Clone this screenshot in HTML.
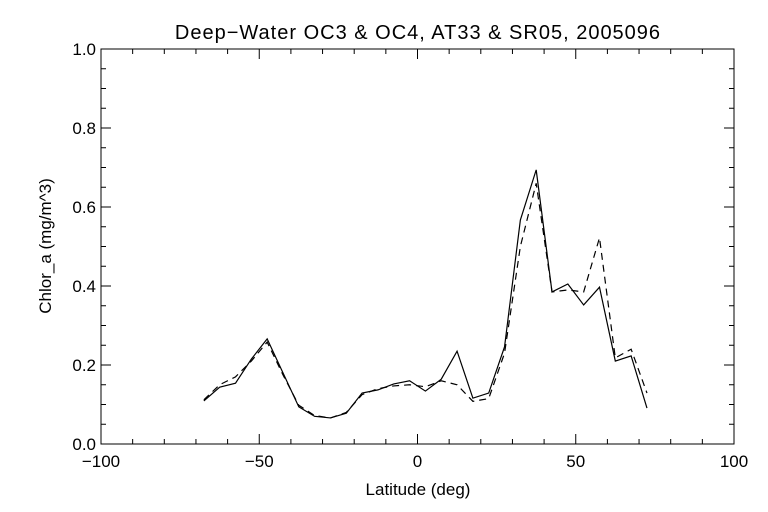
<!DOCTYPE html>
<html><head><meta charset="utf-8"><style>
html,body{margin:0;padding:0;background:#fff;}
svg{display:block;font-family:"Liberation Sans",sans-serif;}
</style></head><body>
<svg id="chart" width="768" height="512" xmlns="http://www.w3.org/2000/svg">
<rect width="768" height="512" fill="#fff"/>
<text x="418" y="39" text-anchor="middle" font-size="20" letter-spacing="1">Deep−Water OC3 &amp; OC4, AT33 &amp; SR05, 2005096</text>
<text x="418" y="495" text-anchor="middle" font-size="17">Latitude (deg)</text>
<text transform="translate(51,246) rotate(-90)" text-anchor="middle" font-size="17">Chlor_a (mg/m^3)</text>
<g id="axes"></g>
<g id="series"></g>
</svg>
<script>
const latitudes=[-67.5,-62.5,-57.5,-52.5,-47.5,-42.5,-37.5,-32.5,-27.5,-22.5,-17.5,-12.5,-7.5,-2.5,2.5,7.5,12.5,17.5,22.5,27.5,32.5,37.5,42.5,47.5,52.5,57.5,62.5,67.5,72.5];
const solidValues=[0.109,0.144,0.154,0.215,0.266,0.18,0.094,0.07,0.066,0.078,0.129,0.137,0.152,0.16,0.134,0.164,0.235,0.116,0.129,0.246,0.567,0.694,0.385,0.405,0.352,0.397,0.21,0.223,0.091];
const dashedValues=[0.112,0.15,0.17,0.21,0.258,0.175,0.098,0.072,0.066,0.08,0.125,0.14,0.147,0.15,0.145,0.16,0.15,0.108,0.115,0.23,0.5,0.66,0.385,0.39,0.385,0.522,0.218,0.24,0.129];
const xTicks=[-100,-50,0,50,100];
const yTicks=[0.0,0.2,0.4,0.6,0.8,1.0];
const NS="http://www.w3.org/2000/svg";
const L=101,R=734,T=49,B=444;
function sx(v){return L+(v+100)/200*(R-L);}
function sy(v){return B-v*(B-T);}
function mk(tag,attrs,parent){const e=document.createElementNS(NS,tag);for(const k in attrs)e.setAttribute(k,attrs[k]);parent.appendChild(e);return e;}
const axes=document.getElementById('axes');
const frame=mk('rect',{x:L,y:T,width:R-L,height:B-T,fill:'none',stroke:'#000','stroke-width':1},axes);


for(let v=-100;v<=100;v+=10){
  const major=v%50===0;const len=major?10:5;
  const t1=mk('line',{x1:sx(v),x2:sx(v),y1:B,y2:B-len,stroke:'#000'},axes);
  
  
  const t2=mk('line',{x1:sx(v),x2:sx(v),y1:T,y2:T+len,stroke:'#000'},axes);
  
  
}
xTicks.forEach(v=>{
  const t=mk('text',{x:sx(v),y:B+23,'text-anchor':'middle','font-size':17},axes);
  t.textContent=(v<0?'−':'')+Math.abs(v);
  
  
});
for(let i=0;i<=20;i++){
  const v=i*0.05;const major=i%4===0;const len=major?10:5;
  const t1=mk('line',{x1:L,x2:L+len,y1:sy(v),y2:sy(v),stroke:'#000'},axes);
  
  
  const t2=mk('line',{x1:R,x2:R-len,y1:sy(v),y2:sy(v),stroke:'#000'},axes);
  
  
}
yTicks.forEach(v=>{
  const t=mk('text',{x:L-5,y:sy(v)+6,'text-anchor':'end','font-size':17},axes);
  t.textContent=v.toFixed(1);
  
  
});
const series=document.getElementById('series');
function pts(vals){return latitudes.map((x,i)=>sx(x)+','+sy(vals[i])).join(' ');}
const s1=mk('polyline',{points:pts(solidValues),fill:'none',stroke:'#000','stroke-width':1.2},series);


const s2=mk('polyline',{points:pts(dashedValues),fill:'none',stroke:'#000','stroke-width':1.2,'stroke-dasharray':'7,5'},series);


</script>
</body></html>
